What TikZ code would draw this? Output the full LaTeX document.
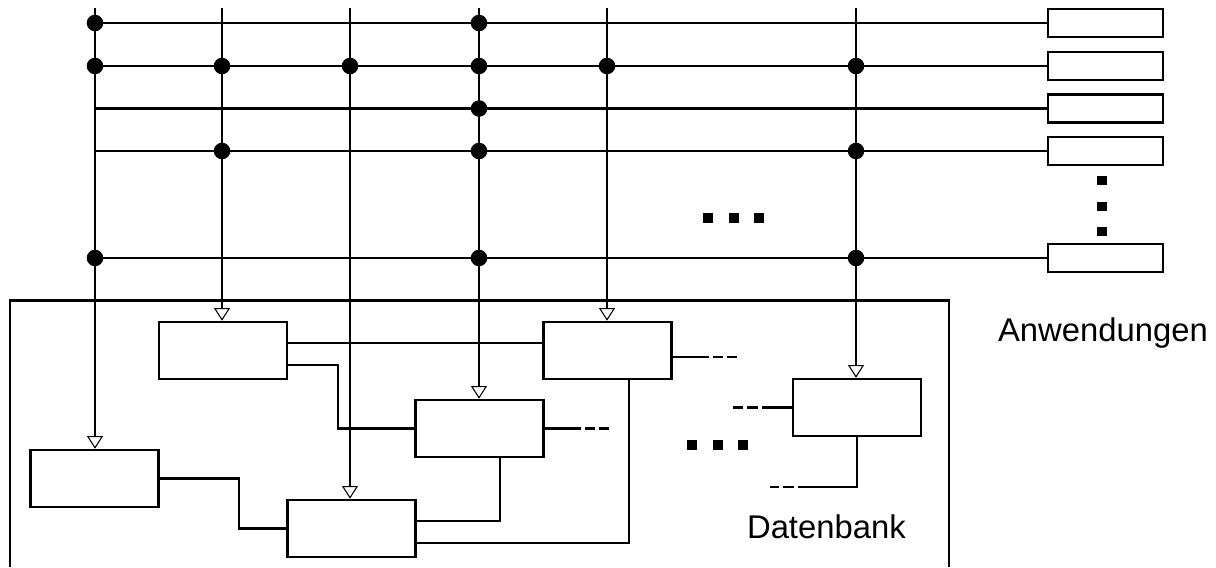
\documentclass[tikz,border=0pt]{standalone}
\usepackage{fontspec}
\setmainfont{Liberation Sans}
\usetikzlibrary{arrows.meta,calc}

\begin{document}
\begin{tikzpicture}[x=0.75pt,y=0.75pt,yscale=-1,xscale=1,line width=1.6pt,
  appbox/.style={draw,rectangle,line width=1.9pt,inner sep=0pt,minimum width=86.25pt,minimum height=21pt},
  dbbox/.style={draw,rectangle,line width=1.9pt,inner sep=0pt,minimum width=96pt,minimum height=42.75pt},
  junction/.style={circle,fill,draw=none,inner sep=0pt,minimum size=12.4pt},
  feed/.style={-{Triangle[fill=white,width=12pt,length=9.5pt,line width=0.8pt 0]}},
  tail/.style={dash pattern=on #1 off 3pt on 8pt off 3pt on 7.5pt off 300pt},
  label/.style={anchor=base west,inner sep=0pt,font=\fontsize{24.6}{28}\selectfont}]
\useasboundingbox (0,0) rectangle (1216,567);
%\path (0,567); %diagram height 567

%Shape: Rectangle (applications)
\node[appbox] (app1) at (1105.5,23) {};
\node[appbox] (app2) at (1105.5,66) {};
\node[appbox] (app3) at (1105.5,108.5) {};
\node[appbox] (app4) at (1105.5,151) {};
\node[appbox] (app5) at (1105.5,258) {};

%Shape: Rectangle (database parts)
\node[dbbox] (dbA) at (223,350.5) {};
\node[dbbox] (dbB) at (94.5,478.5) {};
\node[dbbox] (dbC) at (479.5,428.5) {};
\node[dbbox] (dbD) at (607.5,350.5) {};
\node[dbbox] (dbE) at (351.5,528.5) {};
\node[dbbox] (dbF) at (857,407.5) {};

%Shape: Rectangle (database frame, open at the bottom)
\draw (10,567) -- (10,300.5) -- (949,300.5) -- (949,567);

% top ends of the access lines
\coordinate (top1) at (95,8);
\coordinate (top2) at (222,8);
\coordinate (top3) at (350,8);
\coordinate (top4) at (479,8);
\coordinate (top5) at (607,8);
\coordinate (top6) at (856,8);

%Straight Lines (buses to the applications)
\foreach \r in {1,...,5}
  \draw (top1 |- app\r.west) -- (app\r.west);

%Straight Lines (access into the database)
\foreach \c/\b in {1/B,2/A,3/E,4/C,5/D,6/F}
  \draw[feed] (top\c) -- (top\c |- db\b.north);

%Junctions
\foreach \c/\r in {1/1,4/1,1/2,2/2,3/2,4/2,5/2,6/2,4/3,2/4,4/4,6/4,1/5,4/5,6/5}
  \node[junction] (j\c\r) at (top\c |- app\r.west) {};

%Straight Lines (links inside the database)
\draw ($(dbA.east)+(0,-7.5)$) -- ($(dbD.west)+(0,-7.5)$);
\draw ($(dbA.east)+(0,14.5)$) -- ++(50,0) |- (dbC.west);
\draw (dbB.east) -- ++(79,0) |- (dbE.west);
\draw ($(dbC.south)+(20.5,0)$) |- ($(dbE.east)+(0,-7.5)$);
\draw ($(dbD.south)+(21.5,0)$) |- ($(dbE.east)+(0,14.5)$);

%Straight Lines (open ends)
\draw[tail=27pt] ($(dbD.east)+(0,6.5)$) -- ++(65,0);
\draw[tail=27pt] (dbC.east) -- ++(64,0);
\draw[tail=22.5pt] (dbF.west) -- ++(-59,0);
\draw[tail=81.75pt] (dbF.south) -- ++(0,50) -- ++(-87,0);

%Shape: Squares (ellipses)
\foreach \x in {708,734,759}
  \fill (\x-5,213) rectangle ++(10,10);
\foreach \y in {180,206,231}
  \fill (1097,\y-4.5) rectangle ++(10,9);
\foreach \x in {692,718,743}
  \fill (\x-5,440) rectangle ++(10,9.5);

% Text Node
\node[label] (apps) at (997,341) {Anwendungen};
% Text Node
\node[label] (dbase) at (746,538) {Datenbank};
\end{tikzpicture}
\end{document}
